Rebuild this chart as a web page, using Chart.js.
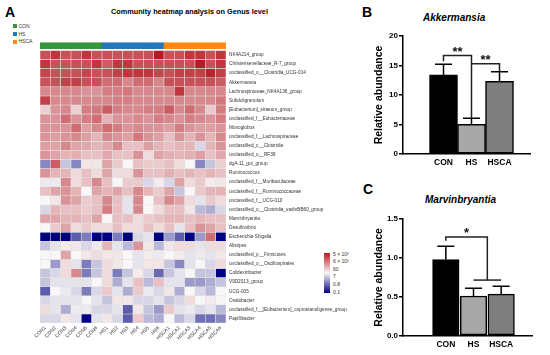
<!DOCTYPE html>
<html><head><meta charset="utf-8">
<script src="https://cdn.jsdelivr.net/npm/chart.js@4.4.1/dist/chart.umd.min.js"></script>
<style>
html,body{margin:0;padding:0;background:#fff;}
body{width:550px;height:355px;position:relative;overflow:hidden;font-family:"Liberation Sans",Arial,sans-serif;color:#000;}
canvas{position:absolute;}
.abs{position:absolute;white-space:nowrap;line-height:1;}
.sq{position:absolute;width:4px;height:4px;}
</style></head><body>
<div class="abs" style="left:5px;top:5px;font-size:14px;font-weight:bold">A</div>
<div class="abs" id="heatTitle" style="left:111px;top:8px;font-size:7.3px;font-weight:bold">Community heatmap analysis on Genus level</div>
<div id="groupLegend"></div>
<div id="scaleLegend"></div>
<div class="abs" style="left:362px;top:5px;font-size:14px;font-weight:bold">B</div>
<div class="abs" style="left:363px;top:182px;font-size:14px;font-weight:bold">C</div>
<div class="abs" style="left:423px;top:12.5px;font-size:10px;font-weight:bold;font-style:italic">Akkermansia</div>
<div class="abs" style="left:425px;top:194.5px;font-size:10px;font-weight:bold;font-style:italic">Marvinbryantia</div>
<canvas id="heat" width="360" height="355" style="left:0;top:0"></canvas>
<canvas id="akk" width="185" height="155" style="left:365px;top:20px"></canvas>
<canvas id="marv" width="185" height="160" style="left:365px;top:195px"></canvas>
<script>
// ---------------- DATA ----------------
const samples = ['CON1','CON2','CON3','CON4','CON5','CON6','HS1','HS2','HS3','HS4','HS5','HS6','HSCA1','HSCA2','HSCA3','HSCA4','HSCA5','HSCA6'];
const groupNames = ['CON','HS','HSCA'];
const genera = ['NK4A214_group','Christensenellaceae_R-7_group','unclassified_o__Clostridia_UCG-014','Akkermansia','Lachnospiraceae_NK4A136_group','Subdoligranulum','[Eubacterium]_siraeum_group','unclassified_f__Eubacteriaceae','Monoglobus','unclassified_f__Lachnospiraceae','unclassified_c__Clostridia','unclassified_o__RF39','dgA-11_gut_group','Ruminococcus','unclassified_f__Muribaculaceae','unclassified_f__Ruminococcaceae','unclassified_f__UCG-010','unclassified_o__Clostridia_vadinBB60_group','Marvinbryantia','Desulfovibrio','Escherichia-Shigella','Alistipes','unclassified_p__Firmicutes','unclassified_o__Oscillospirales','Colidextribacter','V9D2013_group','UCG-005','Oxalobacter','unclassified_f__[Eubacterium]_coprostanoligenes_group','Papillibacter'];
// colour level per cell (row = genus, column = sample), -4 = deep blue, 0 = white, 4 = deep red
const heatValues = [
 [3,3.5,3,3,3.5,3,3,3,3,3,3,4,3,3,3.5,3.5,3,3.5],
 [3.5,3,3,3,3,3.5,2.8,3.5,3.5,3,3,3,3,3,3,4,3,3.5],
 [3.2,3,3,3,3.2,3,3,3.3,3.5,3.5,3.5,3.2,3,3.3,3.3,3.3,3.8,3.3],
 [3,3,3.3,3.3,3,3,2.5,2.5,2,2.5,2.5,2,3,3,3,3,3,2.8],
 [2,2,2,2,1.8,1.8,2.2,2.2,2.3,2,2,2,2,3.5,2,2,2,2],
 [3.3,2,2,2,2,2,2,2.2,2.2,2,2,2,2,2,2,2,2,2.3],
 [0.7,1.8,2,0.7,2.2,2.3,2.8,2.2,2,2,2.2,2.2,2.8,2,2.5,2,0.8,2.2],
 [1.8,1.8,2.5,1.8,2.2,2.5,1.2,1.8,1.8,2,1.8,2.2,2,1.8,2.2,2,1.8,2.2],
 [1.8,1.8,1.8,2.5,1.6,2,2.5,2.2,1.8,2,1.8,1.8,1.6,2.2,1.8,1.6,1.6,1.8],
 [1.8,1.6,1.8,2,1.6,1.2,2,1.8,1.6,2.3,1.8,1.6,1,1.8,1.2,1.8,1.2,2],
 [1.6,1.5,2,1.5,1.4,1.2,1.4,2,1,1,1.6,1.2,1,1.2,1.2,-0.5,1.2,1.8],
 [1.8,1.5,1.2,1.3,1,1,1.4,1,1,1.8,0.5,1.5,1.3,1.2,1.3,1.6,1,1.4],
 [-1.8,2.8,-0.8,-1.8,0.3,0.3,1.5,0.8,0,1,0.8,0.8,1,0.5,0,-1.8,-0.8,0.7],
 [1.8,1.2,1.2,0.5,1,0.5,1.5,0.5,0.5,1.8,1,1,1.3,1,1.2,1,1.2,1],
 [-0.2,-0.2,2,0.5,1,2,1,0,0.8,0.8,-0.5,0.2,-0.5,1.5,0.5,0.8,0.2,0.3],
 [1,1.5,1.8,1.2,0,1.5,1.2,1.5,1,2,1.2,0.8,1.5,-0.8,0,0.8,1.2,1.2],
 [0,0.3,1.8,1.5,0.8,1,2,1,-0.3,2,0,1,2,1.5,0.5,-0.3,0.8,0.5],
 [-0.5,1.2,1,1,0.8,1,2.2,1,-0.3,2,0,0.5,1,1,0.3,-1,-1.2,-0.5],
 [1.5,1.5,1.2,1.2,1,1.5,0,1,1,0.5,0.8,1,1.2,1.2,1,1.2,1,1],
 [0,0.8,1.5,0.5,0.8,0.5,0.5,1,0.5,0.5,1,0.5,1,-0.3,1,1.8,1.5,1],
 [-4,-4,-4,-2.5,-2,-4,-4,-2,-4,-0.5,-0.3,-4,-1.5,-2.5,-4,-1.5,2.5,-4],
 [-0.8,-0.3,0.2,0.3,-0.5,-0.2,1.2,-0.3,-1,1.8,0.3,-1,0.3,0.5,0.5,-0.3,0.5,0.5],
 [0,0,1.5,0,0.3,0.5,0.3,0.3,0,-0.3,0.2,-0.2,0,0.2,-0.3,-0.2,-0.3,0.3],
 [0,-1.5,0.5,-0.3,-2,-0.8,0.5,0.3,0,-0.3,0.3,0.3,-0.8,-1.8,-0.3,0,-0.5,0.5],
 [-0.8,-0.5,0.5,2,-2,-0.8,0.5,-2,-0.8,0.2,-0.5,-2.3,-0.8,-0.3,0,-0.8,-0.8,-4],
 [-0.8,-0.3,-0.3,-0.3,-0.3,0,0.5,-1.2,-0.3,1,-1,1,-0.3,-0.3,-1.5,-1.5,-1.2,-0.8],
 [-2.5,0,-0.2,-0.5,-2,-0.5,0.8,-0.3,-1.2,0.8,-0.2,-0.5,0.3,-1.2,0,-0.5,-1,0],
 [-0.5,-0.3,-0.3,-0.3,0,-0.3,-0.8,0.3,0.3,-0.5,-0.5,-0.3,-0.8,-0.5,0.5,0,0.2,0],
 [0.5,-0.3,-1.2,-0.2,-0.2,-0.5,-0.5,-0.3,-2.5,0.3,-0.8,-1.5,0.8,-0.3,-0.2,-0.5,-0.3,-1],
 [-0.5,-0.5,0.3,-0.3,-4,-0.3,0.3,-0.5,-2.5,0.8,-1,-1.2,0,-1,-0.5,-2.2,-2.2,-1.8]
];
const colorScaleLabels = ['5 × 10³','6 × 10²','60','7','0.8','0.1'];
const barGroups = ['CON','HS','HSCA'];
const akkermansiaMean = [13.4, 5.05, 12.3];
const akkermansiaSem = [1.8, 1.0, 1.65];
const akkermansiaTicks = [0, 5, 10, 15, 20];
const marvinMean = [0.98, 0.51, 0.535];
const marvinSem = [0.17, 0.10, 0.10];
const marvinTicks = [0, 0.5, 1.0, 1.5];

// ---------------- STYLE ----------------
const FONT = '"Liberation Sans", Arial, sans-serif';
Chart.defaults.font.family = FONT;
Chart.defaults.color = '#000';
const groupColors = {CON:'#35973a', HS:'#2378bb', HSCA:'#ff8a14'};
const barColors = ['#000000', '#a8a8a8', '#7e7e7e'];

function heatColor(v){
  const t = Math.min(1, Math.abs(v)/4);
  const w = [248,246,246];
  const e = v >= 0 ? [182,26,36] : [0,0,128];
  const c = w.map((a,i)=>Math.round(a + (e[i]-a)*t));
  return `rgb(${c[0]},${c[1]},${c[2]})`;
}

// group legend
const gl = document.getElementById('groupLegend');
groupNames.forEach((g,i)=>{
  const top = [24, 32, 39.5][i];
  gl.insertAdjacentHTML('beforeend', `<div class="sq" style="left:13px;top:${top}px;background:${groupColors[g]}"></div><div class="abs" style="left:18.5px;top:${top-0.3}px;font-size:5px;color:#333">${g}</div>`);
});
// colour scale legend
const sl = document.getElementById('scaleLegend');
sl.insertAdjacentHTML('beforeend', `<div class="abs" style="left:324px;top:253px;width:6px;height:40px;background:linear-gradient(to bottom, rgb(182,26,36), rgb(248,246,246) 50%, rgb(0,0,128))"></div>`);
colorScaleLabels.forEach((t,i)=>{
  sl.insertAdjacentHTML('beforeend', `<div class="abs" style="left:333px;top:${251.5+i*7.6}px;font-size:5px;color:#333">${t}</div>`);
});

// ---------------- HEATMAP ----------------
const sampleGroup = samples.map(s=>s.replace(/\d+$/,''));
const heatDatasets = genera.map((g,r)=>({
  label:g,
  data: samples.map(()=>[r, r+1]),
  backgroundColor: heatValues[r].map(heatColor),
  borderColor:'rgba(225,225,225,0.9)', borderWidth:0.6, borderSkipped:false,
  grouped:false, barPercentage:1, categoryPercentage:1
}));
heatDatasets.push({
  label:'group', data: samples.map(()=>[-0.88,-0.2]),
  backgroundColor: sampleGroup.map(g=>groupColors[g]), borderWidth:0,
  grouped:false, barPercentage:1, categoryPercentage:1
});
new Chart(document.getElementById('heat'), {
  type:'bar',
  data:{labels:samples, datasets:heatDatasets},
  options:{
    responsive:false, animation:false, devicePixelRatio:1,
    layout:{padding:{left:40, top:42.3, right:0, bottom:0}},
    plugins:{legend:{display:false}, tooltip:{enabled:false}},
    scales:{
      x:{type:'category', offset:true, grid:{display:false, drawTicks:false}, border:{display:false},
         ticks:{autoSkip:false, minRotation:45, maxRotation:45, font:{size:5}, color:'#333', padding:2},
         afterFit:s=>{s.height=32;}},
      y:{type:'linear', min:-0.9, max:30, reverse:true, position:'right',
         grid:{display:false, drawTicks:false}, border:{display:false},
         afterBuildTicks:s=>{s.ticks = genera.map((g,i)=>({value:i+0.5}));},
         ticks:{autoSkip:false, font:{size:4.7}, color:'#333', padding:3, callback:(v,i)=>genera[i]},
         afterFit:s=>{s.width=134;}}
    }
  }
});

// ---------------- BAR CHARTS ----------------
const sigPlugin = {
  id:'sig',
  afterDatasetsDraw(chart, args, o){
    const {ctx} = chart; const x = chart.scales.x, y = chart.scales.y;
    ctx.save();
    ctx.strokeStyle = '#000'; ctx.lineWidth = 1.5;
    o.means.forEach((m,i)=>{
      const px = x.getPixelForValue(i+1);
      const y0 = y.getPixelForValue(m), y1 = y.getPixelForValue(m + o.sems[i]);
      ctx.beginPath(); ctx.moveTo(px,y0); ctx.lineTo(px,y1);
      ctx.moveTo(px-o.cap,y1); ctx.lineTo(px+o.cap,y1); ctx.stroke();
    });
    ctx.strokeStyle = '#222';
    o.brackets.forEach(path=>{
      ctx.beginPath();
      path.forEach((p,j)=>{const X=x.getPixelForValue(p[0]), Y=y.getPixelForValue(p[1]); j?ctx.lineTo(X,Y):ctx.moveTo(X,Y);});
      ctx.stroke();
    });
    ctx.fillStyle = '#111'; ctx.font = 'bold 13px ' + FONT; ctx.textAlign = 'center'; ctx.textBaseline = 'alphabetic';
    o.stars.forEach(s=>ctx.fillText(s.text, x.getPixelForValue(s.x), y.getPixelForValue(s.y)+0.5));
    ctx.restore();
  }
};

function barChart(id, means, sems, ticks, yMax, xMin, xMax, thick, pad, xAxisH, decimals, sig){
  new Chart(document.getElementById(id), {
    type:'bar',
    data:{datasets:[{
      data: means.map((v,i)=>({x:i+1, y:v})),
      backgroundColor: barColors, borderColor:'#000', borderWidth:1.5, borderSkipped:false,
      barThickness: thick
    }]},
    options:{
      responsive:false, animation:false, devicePixelRatio:1,
      layout:{padding:pad},
      plugins:{legend:{display:false}, tooltip:{enabled:false}, sig:sig},
      scales:{
        x:{type:'linear', min:xMin, max:xMax,
           grid:{display:false, drawTicks:false}, border:{display:true, color:'#000', width:1.5},
           afterBuildTicks:s=>{s.ticks = barGroups.map((g,i)=>({value:i+1}));},
           ticks:{font:{size:8.5, weight:'bold'}, color:'#000', padding:4, callback:(v,i)=>barGroups[i]},
           afterFit:s=>{s.height=xAxisH;}},
        y:{type:'linear', min:0, max:yMax,
           grid:{display:true, drawOnChartArea:false, drawTicks:true, tickLength:4, color:'#000', lineWidth:1.5},
           border:{display:true, color:'#000', width:1.5},
           afterBuildTicks:s=>{s.ticks = ticks.map(v=>({value:v}));},
           ticks:{font:{size:8, weight:'bold'}, color:'#000', padding:1, callback:v=>v.toFixed(decimals)},
           title:{display:true, text:'Relative abundance', font:{size:10.5, weight:'bold'}, color:'#000', padding:{top:4,bottom:2}},
           afterFit:s=>{s.width=34;}}
      }
    },
    plugins:[sigPlugin]
  });
}

barChart('akk', akkermansiaMean, akkermansiaSem, akkermansiaTicks, 20, 0.3095, 3.333, 28,
  {left:4, top:16, right:20, bottom:0}, 21, 0,
  {means:akkermansiaMean, sems:akkermansiaSem, cap:8.5,
   brackets:[[[1,15.7],[1,16.7],[2,16.7],[2,6.05]], [[2,15.3],[3,15.3],[3,13.95]]],
   stars:[{x:1.5,y:16.7,text:'**'},{x:2.5,y:15.3,text:'**'}]});

barChart('marv', marvinMean, marvinSem, marvinTicks, 1.5, 0.229, 3.337, 26.5,
  {left:4, top:24, right:18, bottom:0}, 19.3, 1,
  {means:marvinMean, sems:marvinSem, cap:8.5,
   brackets:[[[1,1.22],[1,1.27],[2.5,1.27],[2.5,0.715]], [[2,0.715],[3,0.715]]],
   stars:[{x:1.75,y:1.27,text:'*'}]});
</script>
</body></html>
